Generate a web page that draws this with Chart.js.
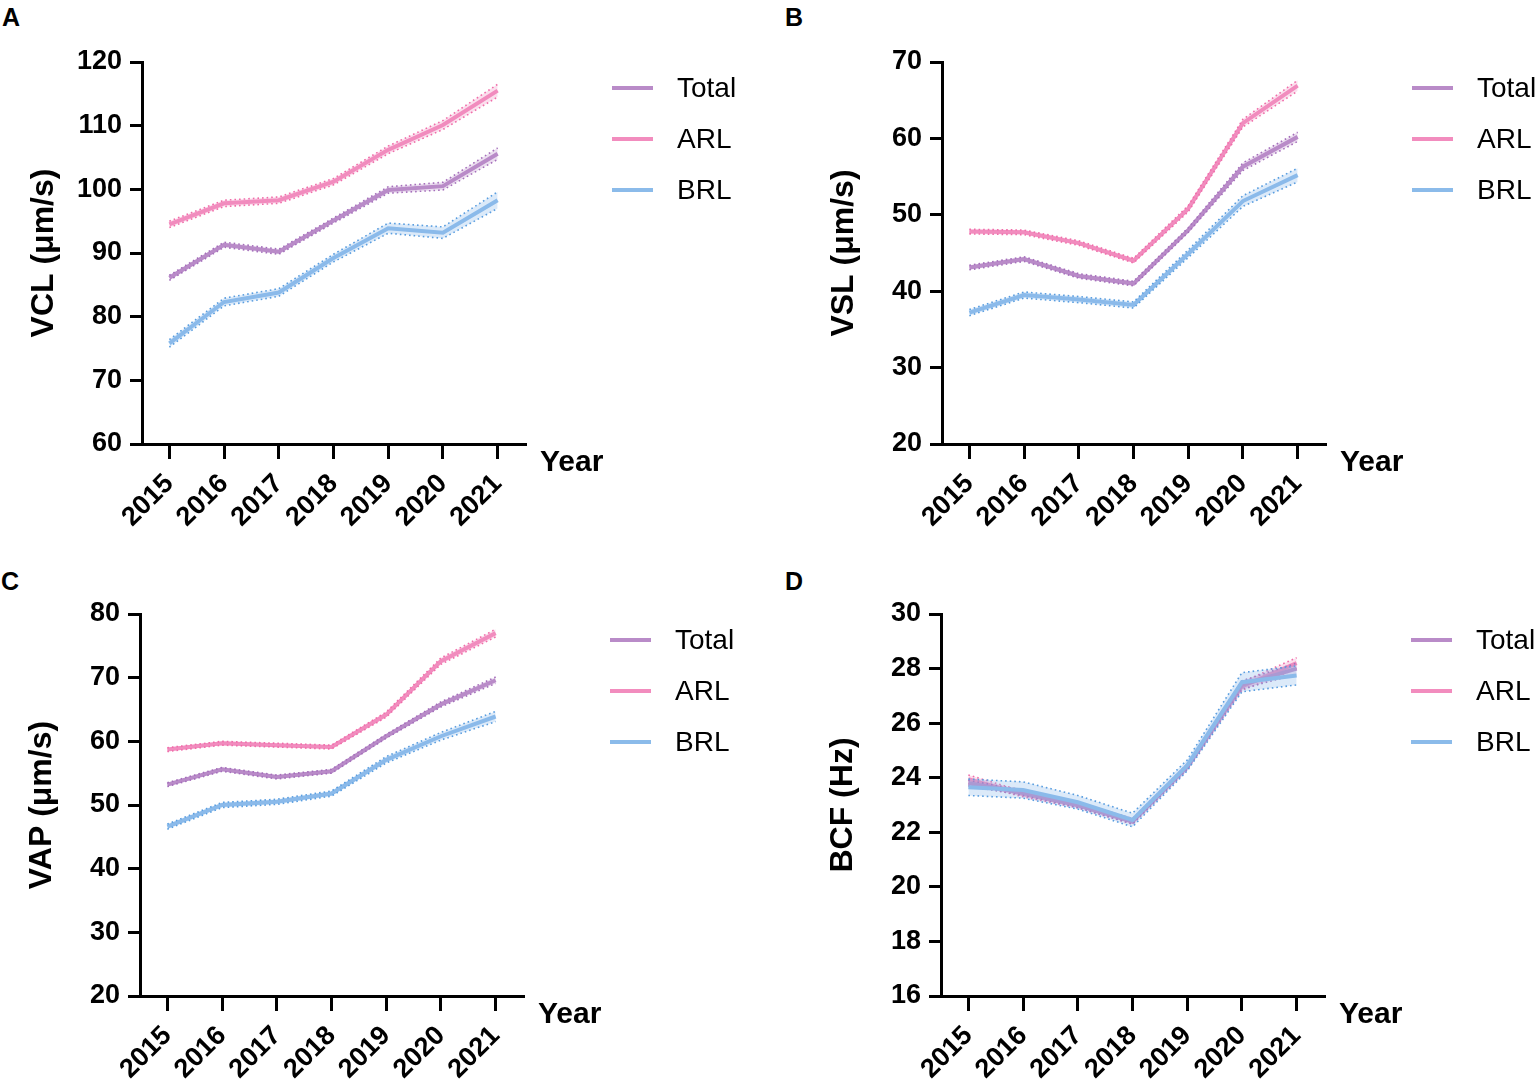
<!DOCTYPE html>
<html>
<head>
<meta charset="utf-8">
<script src="https://cdn.jsdelivr.net/npm/chart.js@4.4.1/dist/chart.umd.min.js"></script>
<style>
    body { margin: 0; background: #fff; width: 1535px; height: 1082px; overflow: hidden; position: relative; font-family: "Liberation Sans", Arial, sans-serif; }
    canvas { position: absolute; }
    .tag { position: absolute; font-weight: bold; font-size: 25px; line-height: 1; color: #000; }
</style>
</head>
<body>
<div class="tag" style="left:2px;top:5px">A</div>
<div class="tag" style="left:785px;top:5px">B</div>
<div class="tag" style="left:1px;top:569px">C</div>
<div class="tag" style="left:785px;top:569px">D</div>

<canvas id="chartA" width="735" height="540" style="left:0px;top:0px"></canvas>
<canvas id="chartB" width="735" height="540" style="left:800px;top:0px"></canvas>
<canvas id="chartC" width="735" height="540" style="left:-2px;top:552px"></canvas>
<canvas id="chartD" width="735" height="540" style="left:799px;top:552px"></canvas>

<script>
// ==========================================
// DATOS
// ==========================================
const years = ['2015', '2016', '2017', '2018', '2019', '2020', '2021'];
const seriesNames = ['Total', 'ARL', 'BRL'];

// A: VCL (μm/s)
const vclTotal = [86.1, 91.3, 90.2, 95.1, 99.9, 100.5, 105.6];
const vclARL   = [94.5, 97.8, 98.3, 101.2, 106.2, 110.1, 115.5];
const vclBRL   = [75.8, 82.3, 83.8, 89.2, 93.9, 93.2, 98.3];
const vclTotalSem = [0.4, 0.4, 0.4, 0.4, 0.5, 0.6, 0.9];
const vclARLSem   = [0.5, 0.5, 0.5, 0.5, 0.6, 0.7, 1.0];
const vclBRLSem   = [0.6, 0.6, 0.6, 0.6, 0.8, 0.9, 1.3];
const vclAxis = [60, 120, 10];

// B: VSL (μm/s)
const vslTotal = [43.1, 44.2, 42.0, 41.0, 48.0, 56.3, 60.2];
const vslARL   = [47.8, 47.7, 46.3, 44.0, 50.8, 62.0, 66.9];
const vslBRL   = [37.2, 39.5, 38.9, 38.2, 44.9, 51.8, 55.2];
const vslTotalSem = [0.3, 0.3, 0.3, 0.3, 0.3, 0.5, 0.6];
const vslARLSem   = [0.3, 0.3, 0.3, 0.3, 0.4, 0.5, 0.7];
const vslBRLSem   = [0.4, 0.4, 0.4, 0.4, 0.5, 0.7, 0.9];
const vslAxis = [20, 70, 10];

// C: VAP (μm/s)
const vapTotal = [53.2, 55.6, 54.4, 55.3, 60.8, 65.8, 69.6];
const vapARL   = [58.7, 59.7, 59.4, 59.1, 64.2, 72.6, 77.0];
const vapBRL   = [46.6, 50.0, 50.5, 51.8, 57.1, 60.8, 63.9];
const vapTotalSem = [0.3, 0.3, 0.3, 0.3, 0.3, 0.4, 0.5];
const vapARLSem   = [0.3, 0.3, 0.3, 0.3, 0.4, 0.5, 0.6];
const vapBRLSem   = [0.4, 0.4, 0.4, 0.4, 0.5, 0.6, 0.8];
const vapAxis = [20, 80, 10];

// D: BCF (Hz)
const bcfTotal = [23.8, 23.45, 23.0, 22.4, 24.4, 27.4, 28.0];
const bcfARL   = [23.95, 23.4, 23.0, 22.4, 24.4, 27.35, 28.2];
const bcfBRL   = [23.65, 23.55, 23.1, 22.45, 24.45, 27.5, 27.75];
const bcfTotalSem = [0.1, 0.1, 0.1, 0.1, 0.1, 0.15, 0.2];
const bcfARLSem   = [0.15, 0.1, 0.1, 0.1, 0.1, 0.15, 0.2];
const bcfBRLSem   = [0.3, 0.3, 0.25, 0.25, 0.2, 0.35, 0.35];
const bcfAxis = [16, 30, 2];

// colores: línea, puntos del borde, relleno de la banda
const lineColors = ['#B98BC8', '#F28CBE', '#8BBBEA'];
const dotColors  = ['#A56FBB', '#F06DAA', '#5A9EE0'];
const bandColors = ['rgba(185,139,200,0.28)', 'rgba(242,140,190,0.28)', 'rgba(139,187,234,0.30)'];

const FONT = '"Liberation Sans", Arial, sans-serif';

// ==========================================
// PLUGIN: LEYENDA + "Year"
// ==========================================
const sideLegend = {
    id: 'sideLegend',
    afterDraw(chart) {
        const { ctx, chartArea } = chart;
        ctx.save();
        seriesNames.forEach((name, i) => {
            const y = chartArea.top + 26 + i * 51;
            ctx.strokeStyle = lineColors[i];
            ctx.lineWidth = 4;
            ctx.beginPath();
            ctx.moveTo(chartArea.right + 87, y);
            ctx.lineTo(chartArea.right + 128, y);
            ctx.stroke();
            ctx.fillStyle = '#000';
            ctx.font = '28px ' + FONT;
            ctx.textAlign = 'left';
            ctx.textBaseline = 'middle';
            ctx.fillText(name, chartArea.right + 152, y + 1);
        });
        ctx.font = 'bold 30px ' + FONT;
        ctx.fillText('Year', chartArea.right + 15, chartArea.bottom + 19);
        ctx.restore();
    }
};

// ==========================================
// CONSTRUCCIÓN DE LOS PANELES
// ==========================================
const bandSets = (means, sems, i) => {
    const upper = means.map((v, k) => v + sems[k]);
    const lower = means.map((v, k) => v - sems[k]);
    const dotted = { borderColor: dotColors[i], borderWidth: 1.6, borderDash: [1.6, 3], pointRadius: 0, tension: 0 };
    return [
        { ...dotted, data: upper, fill: false },
        { ...dotted, data: lower, fill: '-1', backgroundColor: bandColors[i] },
        { data: means, borderColor: lineColors[i], borderWidth: 4, pointRadius: 0, tension: 0, fill: false }
    ];
};

const makePanel = (canvasId, title, axis, totals, arl, brl, totalSem, arlSem, brlSem) => {
    const H = 540;
    // orden de dibujo: BRL, Total, ARL encima
    const datasets = [
        ...bandSets(brl, brlSem, 2),
        ...bandSets(totals, totalSem, 0),
        ...bandSets(arl, arlSem, 1)
    ];
    new Chart(document.getElementById(canvasId), {
        type: 'line',
        data: { labels: years, datasets },
        options: {
            responsive: false,
            animation: false,
            devicePixelRatio: 1,
            layout: { padding: { top: 62, right: 210, left: 0, bottom: 0 } },
            plugins: { legend: { display: false }, tooltip: { enabled: false } },
            scales: {
                x: {
                    offset: true,
                    grid: { drawOnChartArea: false, drawTicks: true, tickLength: 15, lineWidth: 3, color: '#000', offset: false },
                    border: { display: true, width: 3, color: '#000' },
                    ticks: {
                        color: '#000', minRotation: 45, maxRotation: 45, padding: 9,
                        font: { family: FONT, size: 27, weight: 'bold' }
                    },
                    afterFit: (s) => { s.height = H - 444; }
                },
                y: {
                    min: axis[0], max: axis[1],
                    grid: { drawOnChartArea: false, drawTicks: true, tickLength: 12, lineWidth: 3, color: '#000' },
                    border: { display: true, width: 3, color: '#000' },
                    ticks: {
                        stepSize: axis[2], color: '#000', padding: 8,
                        font: { family: FONT, size: 27, weight: 'bold' }
                    },
                    title: {
                        display: true, text: title, color: '#000', padding: { top: 25 },
                        font: { family: FONT, size: 32, weight: 'bold' }
                    },
                    afterFit: (s) => { s.width = 142; }
                }
            }
        },
        plugins: [sideLegend]
    });
};

makePanel('chartA', 'VCL (μm/s)', vclAxis, vclTotal, vclARL, vclBRL, vclTotalSem, vclARLSem, vclBRLSem);
makePanel('chartB', 'VSL (μm/s)', vslAxis, vslTotal, vslARL, vslBRL, vslTotalSem, vslARLSem, vslBRLSem);
makePanel('chartC', 'VAP (μm/s)', vapAxis, vapTotal, vapARL, vapBRL, vapTotalSem, vapARLSem, vapBRLSem);
makePanel('chartD', 'BCF (Hz)', bcfAxis, bcfTotal, bcfARL, bcfBRL, bcfTotalSem, bcfARLSem, bcfBRLSem);
</script>
</body>
</html>
